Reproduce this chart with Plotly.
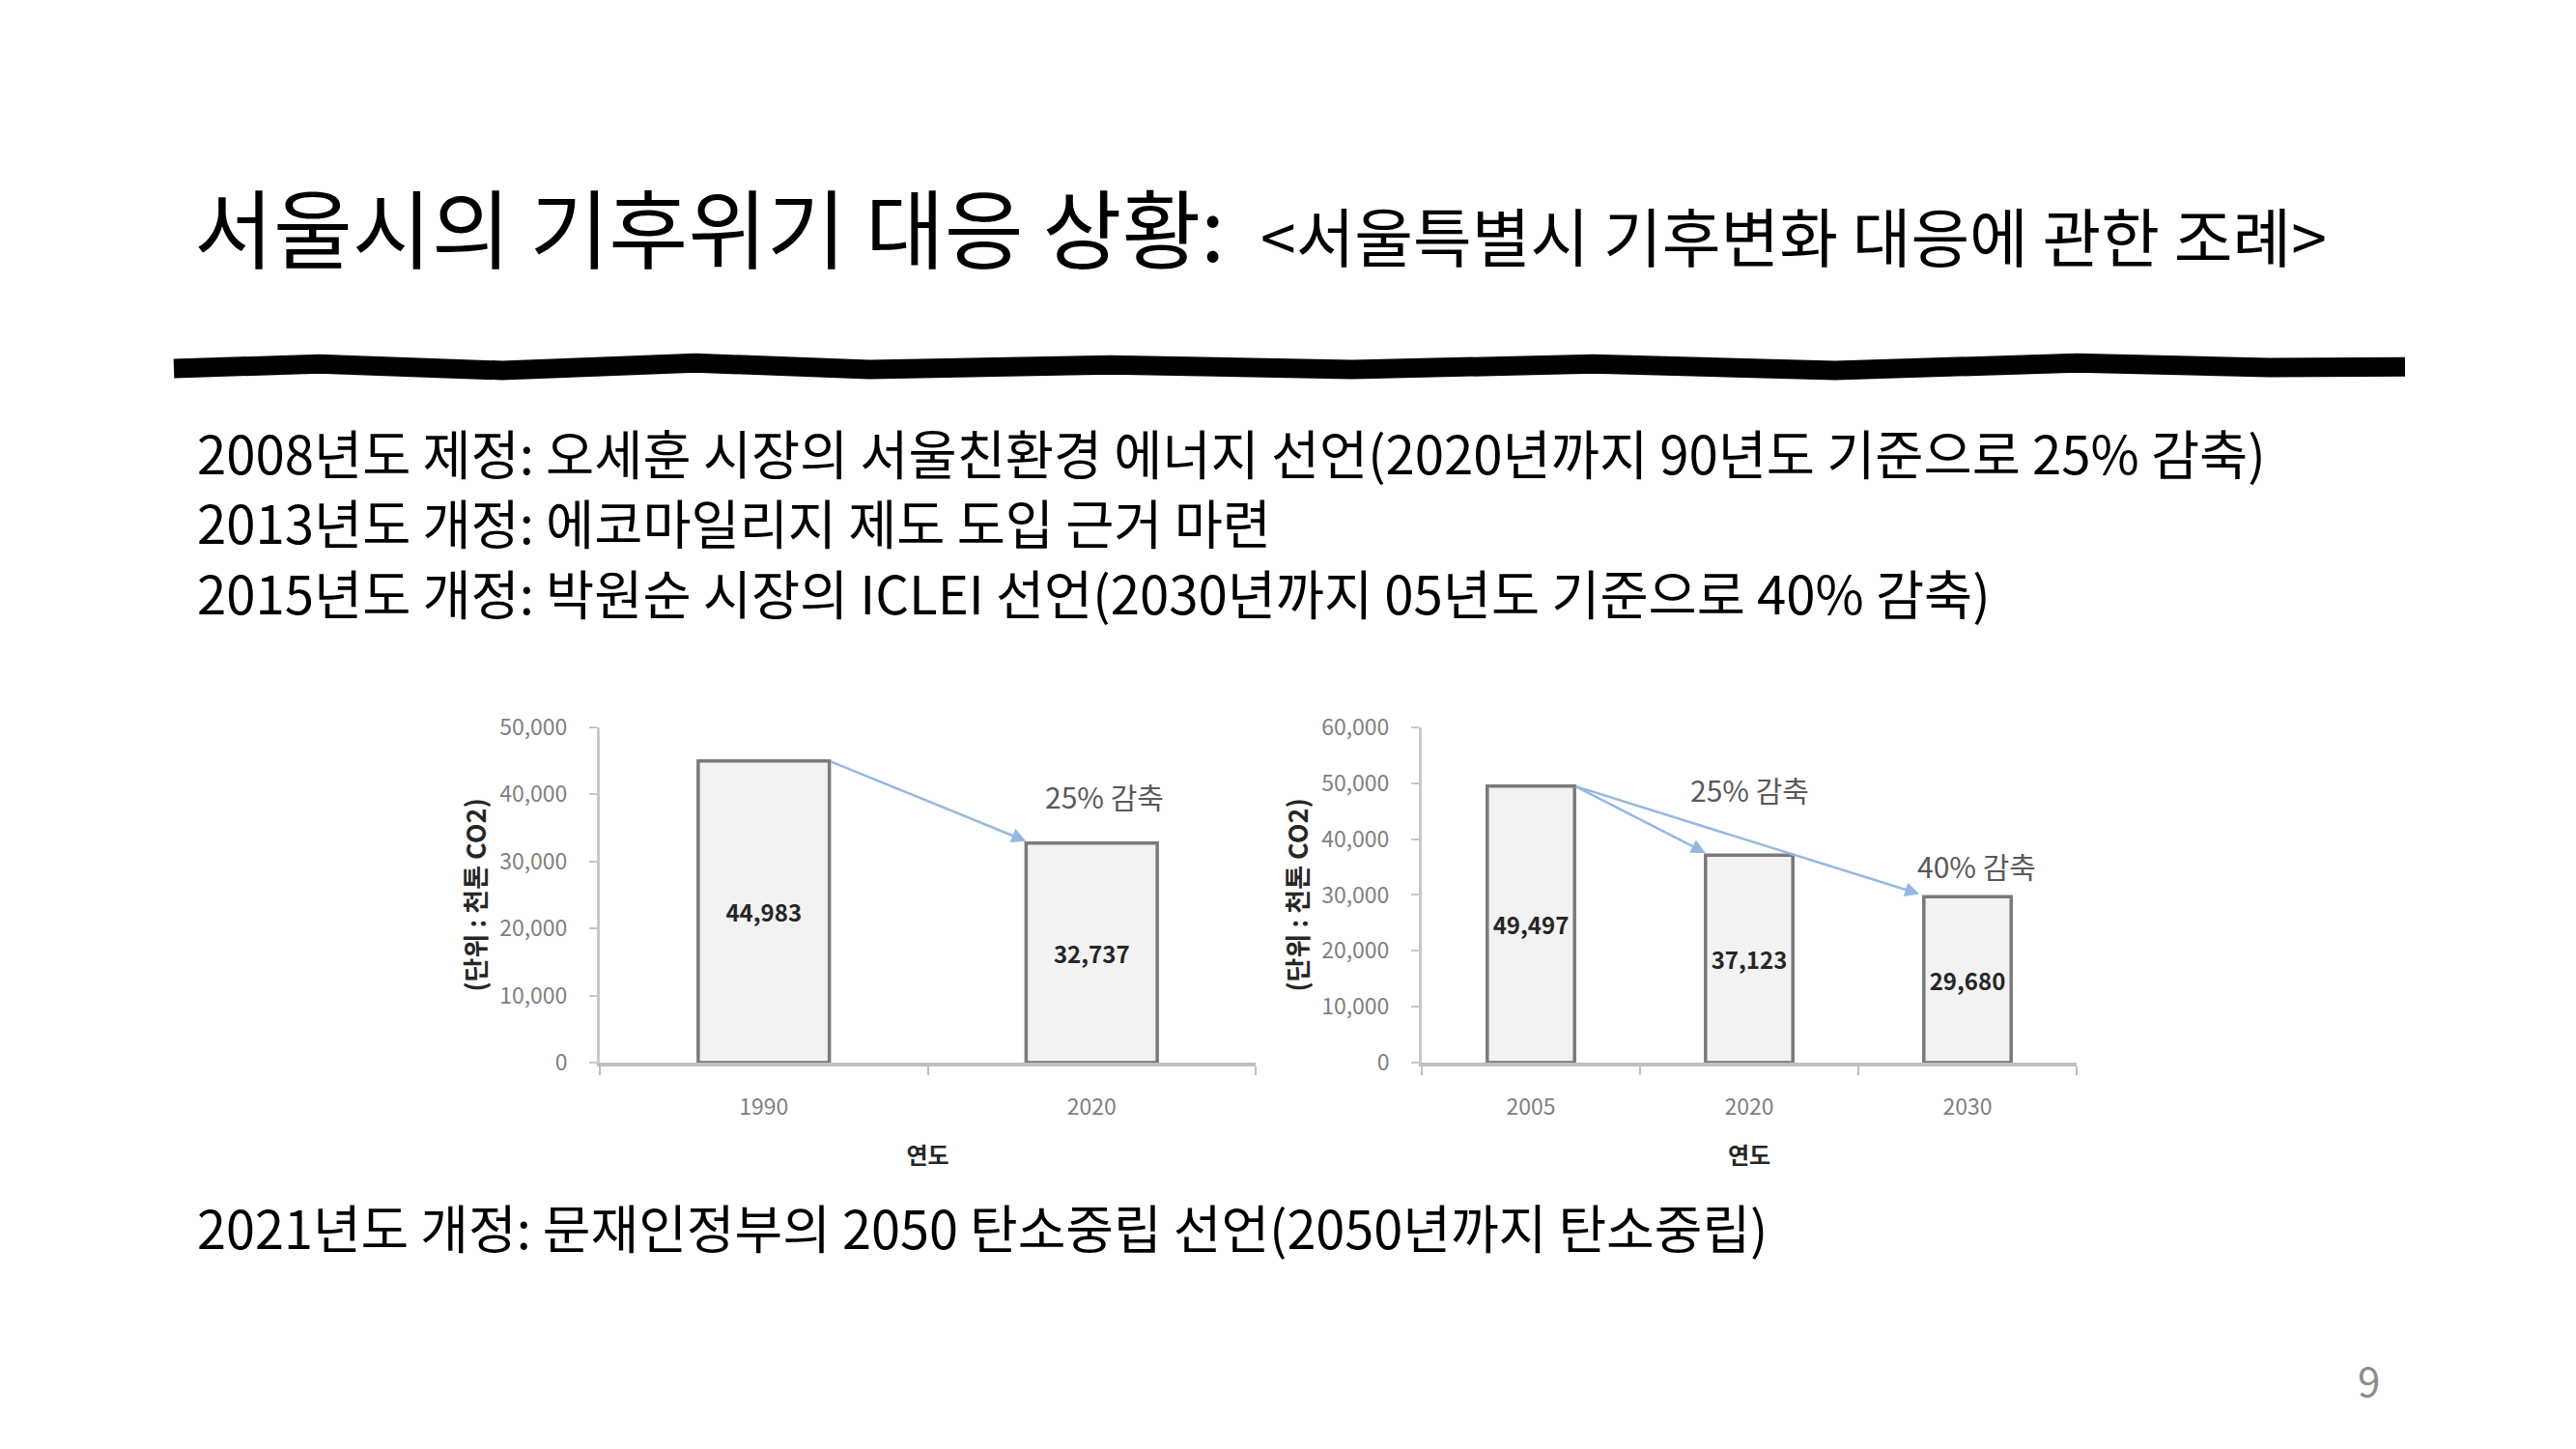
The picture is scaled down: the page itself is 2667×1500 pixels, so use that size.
import plotly.graph_objects as go

W, H = 2667, 1500
FONT = "Noto Sans CJK KR"

# data
years_a = ["1990", "2020"]
emis_a = [44983, 32737]
years_b = ["2005", "2020", "2030"]
emis_b = [49497, 37123, 29680]

title_main = "서울시의 기후위기 대응 상황:"
title_sub = "<서울특별시 기후변화 대응에 관한 조례>"
body_lines = [
    "2008년도 제정: 오세훈 시장의 서울친환경 에너지 선언(2020년까지 90년도 기준으로 25% 감축)",
    "2013년도 개정: 에코마일리지 제도 도입 근거 마련",
    "2015년도 개정: 박원순 시장의 ICLEI 선언(2030년까지 05년도 기준으로 40% 감축)",
]
last_line = "2021년도 개정: 문재인정부의 2050 탄소중립 선언(2050년까지 탄소중립)"
y_title = "<b>(단위 : 천톤 CO2)</b>"
x_title = "<b>연도</b>"
cut_a = "25% 감축"
cut_b = ["25% 감축", "40% 감축"]


def px(x):
    return x / W


def py(y):
    return 1 - y / H


fig = go.Figure()

bar_style = dict(
    marker=dict(color="#f2f2f2", line=dict(color="#7a7a7a", width=3.5)),
    width=0.4,
    textposition="inside",
    insidetextanchor="middle",
    textangle=0,
    textfont=dict(family=FONT, size=24, color="#262626", weight="bold"),
    showlegend=False,
    hoverinfo="skip",
)

fig.add_trace(go.Bar(x=years_a, y=emis_a, text=[f"{v:,}" for v in emis_a],
                     xaxis="x", yaxis="y", **bar_style))
fig.add_trace(go.Bar(x=years_b, y=emis_b, text=[f"{v:,}" for v in emis_b],
                     xaxis="x2", yaxis="y2", **bar_style))

xa = dict(
    type="category",
    showline=True, linecolor="#bfbfbf", linewidth=4,
    ticks="outside", tickson="boundaries", ticklen=9, tickcolor="#bfbfbf", tickwidth=2,
    ticklabelstandoff=22,
    tickfont=dict(family=FONT, size=23, color="#7f7f7f"),
    showgrid=False, zeroline=False,
    title=dict(text=x_title, font=dict(family=FONT, size=24, color="#262626"), standoff=30),
)
ya = dict(
    showline=True, linecolor="#c8c8c8", linewidth=3,
    ticks="outside", ticklen=8, tickcolor="#c8c8c8", tickwidth=2,
    ticklabelstandoff=18,
    tickformat=",", dtick=10000,
    tickfont=dict(family=FONT, size=23, color="#7f7f7f"),
    showgrid=False, zeroline=False,
    title=dict(text=y_title, font=dict(family=FONT, size=27, color="#262626"), standoff=6),
)

fig.update_layout(
    width=W, height=H,
    margin=dict(l=0, r=0, t=0, b=0),
    paper_bgcolor="white", plot_bgcolor="white",
    bargap=0.6,
    xaxis=dict(xa, domain=[px(621), px(1300)], anchor="y"),
    yaxis=dict(ya, domain=[py(1106), py(751)], range=[0, 50000], anchor="x"),
    xaxis2=dict(xa, domain=[px(1472), px(2150)], anchor="y2"),
    yaxis2=dict(ya, domain=[py(1106), py(751)], range=[0, 60000], anchor="x2"),
)

arrow = dict(text="", showarrow=True, arrowhead=2, arrowsize=1.2, arrowwidth=2.5,
             arrowcolor="#95b8e3", standoff=0, startstandoff=0)
label_font = dict(family=FONT, size=30, color="#595959")

# left chart arrow + label
fig.add_annotation(x=0.8, y=emis_a[1] + 300, ax=0.2, ay=emis_a[0],
                   xref="x", yref="y", axref="x", ayref="y", **arrow)
fig.add_annotation(x=1.04, y=emis_a[1] + 7000, xref="x", yref="y", text=cut_a, showarrow=False,
                   font=label_font)

# right chart arrows + labels
fig.add_annotation(x=0.8, y=emis_b[1] + 400, ax=0.2, ay=emis_b[0],
                   xref="x2", yref="y2", axref="x2", ayref="y2", **arrow)
fig.add_annotation(x=1.78, y=emis_b[2] + 500, ax=0.2, ay=emis_b[0],
                   xref="x2", yref="y2", axref="x2", ayref="y2", **arrow)
fig.add_annotation(x=1.0, y=emis_b[0] - 500, xref="x2", yref="y2", text=cut_b[0], showarrow=False,
                   font=label_font)
fig.add_annotation(x=2.04, y=emis_b[2] + 5500, xref="x2", yref="y2", text=cut_b[1], showarrow=False,
                   font=label_font)

# slide text
fig.add_annotation(x=px(199), y=py(218), xref="paper", yref="paper", xanchor="left", yanchor="middle",
                   text=title_main, showarrow=False, font=dict(family=FONT, size=89, color="black"))
fig.add_annotation(x=px(1303), y=py(228), xref="paper", yref="paper", xanchor="left", yanchor="middle",
                   text=title_sub.replace("<", "&lt;").replace(">", "&gt;"), showarrow=False,
                   font=dict(family=FONT, size=66, color="black"))

for i, line in enumerate(body_lines):
    fig.add_annotation(x=px(202), y=py(459 + 74 * i), xref="paper", yref="paper",
                       xanchor="left", yanchor="middle", text=line, showarrow=False,
                       font=dict(family=FONT, size=54.5, color="black"))
fig.add_annotation(x=px(202), y=py(1280), xref="paper", yref="paper", xanchor="left", yanchor="middle",
                   text=last_line, showarrow=False, font=dict(family=FONT, size=54, color="black"))

fig.add_annotation(x=px(2466), y=py(1474), xref="paper", yref="paper", text="9", showarrow=False,
                   font=dict(family=FONT, size=42, color="#8c8c8c"))

# brush stroke under the title
pts = [(180, 371), (330, 366), (520, 373), (720, 365), (900, 372), (1150, 367),
       (1400, 372), (1650, 366), (1900, 373), (2150, 365), (2350, 370), (2490, 369)]
path = "M " + " L ".join(f"{px(x):.5f},{py(y):.5f}" for x, y in pts)
fig.add_shape(type="path", path=path, xref="paper", yref="paper",
              line=dict(color="black", width=20))

fig.write_html("out.html", config={"displayModeBar": False},
               post_script="document.body.style.margin='0';")
